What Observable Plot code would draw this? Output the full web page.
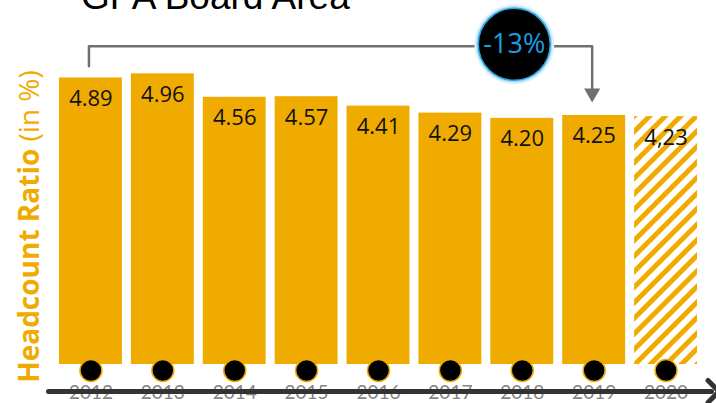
<!DOCTYPE html>
<html><head><meta charset="utf-8">
<script src="https://cdn.jsdelivr.net/npm/d3@7"></script>
<script src="https://cdn.jsdelivr.net/npm/@observablehq/plot@0.6"></script>
<style>
html,body{margin:0;padding:0;background:#fff;overflow:hidden}
#chart svg{overflow:visible;display:block}
</style></head><body><div id="chart"></div>
<script>
const title = "GPA Board Area";
const years = ["2012","2013","2014","2015","2016","2017","2018","2019","2020"];
const values = [4.89, 4.96, 4.56, 4.57, 4.41, 4.29, 4.20, 4.25, 4.23];
const valueLabels = ["4.89","4.96","4.56","4.57","4.41","4.29","4.20","4.25","4,23"];
const forecast = [false,false,false,false,false,false,false,false,true];
const yLabelMain = "Headcount Ratio";
const yLabelUnit = "(in %)";
const changeLabel = "-13%";
const changeFrom = "2012";
const changeTo = "2019";

const gold = "#f0ab00";
const data = years.map((year, i) => ({year, value: values[i], label: valueLabels[i], forecast: forecast[i]}));
const fromValue = values[years.indexOf(changeFrom)];
const toValue = values[years.indexOf(changeTo)];
const bracketLevel = d3.max(values) + 0.47;
const bracket = [
  {year: changeFrom, y: fromValue + 0.2},
  {year: changeFrom, y: bracketLevel},
  {year: changeTo, y: bracketLevel},
  {year: changeTo, y: toValue + 0.45}
];

const chevron = {draw(ctx) { ctx.moveTo(-6, -11); ctx.lineTo(5, 0); ctx.lineTo(-6, 11); }};

const plot = Plot.plot({
  width: 716, height: 403,
  marginLeft: 54.5, marginRight: 14.5, marginTop: 71, marginBottom: 39,
  style: {fontFamily: "'Open Sans', sans-serif", background: "white", overflow: "visible"},
  x: {domain: years, paddingInner: 0.125, paddingOuter: 0.0625, round: false, axis: null},
  y: {domain: [0, 5], axis: null},
  marks: [
    Plot.text([title], {frameAnchor: "top-left", textAnchor: "start", lineAnchor: "bottom", dx: 26, dy: -63, fontSize: 37, fill: "#000", fontFamily: "'Liberation Sans', Arial, sans-serif"}),
    Plot.barY(data.filter(d => !d.forecast), {x: "year", y: "value", fill: gold}),
    Plot.barY(data.filter(d => d.forecast), {x: "year", y: "value", fill: "url(#hatch)"}),
    Plot.text(data, {x: "year", y: "value", text: "label", dy: 21, fontSize: 22, fill: "#111"}),
    Plot.dot(data, {x: "year", y: 0, dy: 6, r: 11, fill: "black", stroke: gold, strokeWidth: 1.5}),
    Plot.text(data, {x: "year", y: 0, text: "year", dy: 28, fontSize: 19, fill: "#858585", fontFamily: "Lato, sans-serif"}),
    Plot.ruleY([0], {dy: 27, stroke: "#333", strokeWidth: 5, strokeLinecap: "round", insetLeft: -6, insetRight: -10}),
    Plot.dot([0], {y: 0, frameAnchor: "right", dx: 12, dy: 27, symbol: chevron, fill: "none", stroke: "#333", strokeWidth: 5, strokeLinecap: "round", strokeLinejoin: "round"}),
    Plot.line(bracket, {x: "year", y: "y", dx: -2, stroke: "#707070", strokeWidth: 2.5}),
    Plot.dot([bracket[3]], {x: "year", y: "y", dx: -2, dy: 4, symbol: "triangle", rotate: 180, r: 6, fill: "#707070"}),
    Plot.dot([changeTo], {x: () => "2018", y: bracketLevel, dx: -8, dy: -2, r: 40, fill: "#dff2fc"}),
    Plot.dot([changeTo], {x: () => "2018", y: bracketLevel, dx: -8, dy: -2, r: 38, fill: "#9fdaf6"}),
    Plot.dot([changeTo], {x: () => "2018", y: bracketLevel, dx: -8, dy: -2, r: 36, fill: "#000", stroke: "#2aa6df", strokeWidth: 1.5}),
    Plot.text([changeLabel], {x: () => "2018", y: bracketLevel, dx: -8, dy: -2, fontSize: 27, fill: "#1a9ee0"}),
    Plot.text([yLabelMain + " " + yLabelUnit], {frameAnchor: "left", textAnchor: "middle", rotate: -90, dx: -24.5, dy: 8.5, fontSize: 28, fill: gold})
  ]
});

const svg = d3.select(plot);
const defs = svg.insert("defs", ":first-child");
const pat = defs.append("pattern").attr("id", "hatch").attr("patternUnits", "userSpaceOnUse")
  .attr("width", 11).attr("height", 11).attr("patternTransform", "rotate(45)");
pat.append("rect").attr("width", 11).attr("height", 11).attr("fill", "white");
pat.append("rect").attr("width", 5).attr("height", 11).attr("fill", gold);

svg.selectAll("text").filter(function() { return this.textContent === yLabelMain + " " + yLabelUnit; })
  .each(function() {
    const t = d3.select(this);
    t.text(null);
    t.append("tspan").attr("font-weight", "bold").text(yLabelMain + " ");
    t.append("tspan").attr("font-weight", "normal").text(yLabelUnit);
  });

document.getElementById("chart").appendChild(plot);
</script>
</body></html>
